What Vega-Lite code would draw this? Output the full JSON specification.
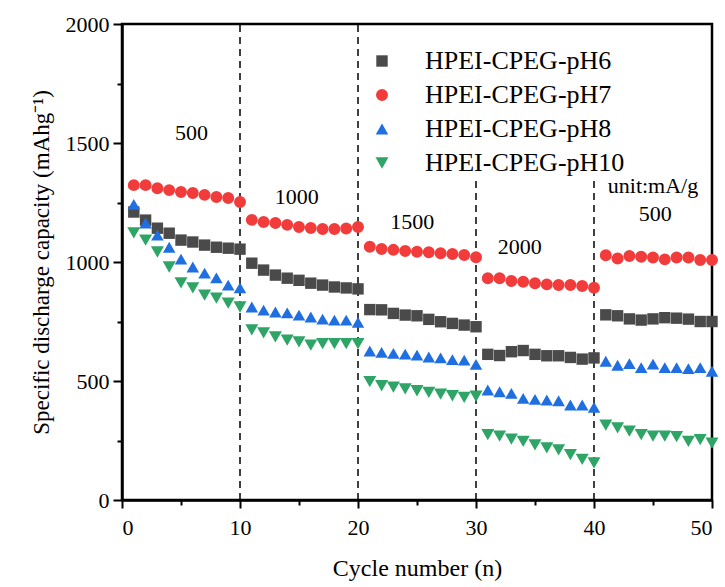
{
  "$schema": "https://vega.github.io/schema/vega-lite/v6.json",
  "width": 590,
  "height": 476,
  "autosize": {"type": "none"},
  "padding": {"left": 122, "top": 24, "right": 13, "bottom": 87},
  "background": "white",
  "config": {
    "view": {"stroke": "black", "strokeWidth": 2.5},
    "font": "Liberation Serif",
    "axis": {"labelFont": "Liberation Serif", "titleFont": "Liberation Serif", "labelColor": "black", "titleColor": "black", "titleFontWeight": "normal", "labelFontSize": 22, "titleFontSize": 23, "domainColor": "black", "domainWidth": 2.5, "tickColor": "black", "tickWidth": 2, "grid": false}
  },
  "datasets": {
    "pts": [
      {"c":1,"s":"HPEI-CPEG-pH6","v":1210},{"c":2,"s":"HPEI-CPEG-pH6","v":1176},{"c":3,"s":"HPEI-CPEG-pH6","v":1142},{"c":4,"s":"HPEI-CPEG-pH6","v":1121},{"c":5,"s":"HPEI-CPEG-pH6","v":1092},{"c":6,"s":"HPEI-CPEG-pH6","v":1084},{"c":7,"s":"HPEI-CPEG-pH6","v":1071},{"c":8,"s":"HPEI-CPEG-pH6","v":1062},{"c":9,"s":"HPEI-CPEG-pH6","v":1058},{"c":10,"s":"HPEI-CPEG-pH6","v":1054},
      {"c":11,"s":"HPEI-CPEG-pH6","v":995},{"c":12,"s":"HPEI-CPEG-pH6","v":966},{"c":13,"s":"HPEI-CPEG-pH6","v":945},{"c":14,"s":"HPEI-CPEG-pH6","v":932},{"c":15,"s":"HPEI-CPEG-pH6","v":923},{"c":16,"s":"HPEI-CPEG-pH6","v":911},{"c":17,"s":"HPEI-CPEG-pH6","v":903},{"c":18,"s":"HPEI-CPEG-pH6","v":895},{"c":19,"s":"HPEI-CPEG-pH6","v":891},{"c":20,"s":"HPEI-CPEG-pH6","v":887},
      {"c":21,"s":"HPEI-CPEG-pH6","v":800},{"c":22,"s":"HPEI-CPEG-pH6","v":799},{"c":23,"s":"HPEI-CPEG-pH6","v":784},{"c":24,"s":"HPEI-CPEG-pH6","v":777},{"c":25,"s":"HPEI-CPEG-pH6","v":774},{"c":26,"s":"HPEI-CPEG-pH6","v":759},{"c":27,"s":"HPEI-CPEG-pH6","v":749},{"c":28,"s":"HPEI-CPEG-pH6","v":742},{"c":29,"s":"HPEI-CPEG-pH6","v":735},{"c":30,"s":"HPEI-CPEG-pH6","v":728},
      {"c":31,"s":"HPEI-CPEG-pH6","v":612},{"c":32,"s":"HPEI-CPEG-pH6","v":607},{"c":33,"s":"HPEI-CPEG-pH6","v":623},{"c":34,"s":"HPEI-CPEG-pH6","v":628},{"c":35,"s":"HPEI-CPEG-pH6","v":612},{"c":36,"s":"HPEI-CPEG-pH6","v":606},{"c":37,"s":"HPEI-CPEG-pH6","v":606},{"c":38,"s":"HPEI-CPEG-pH6","v":599},{"c":39,"s":"HPEI-CPEG-pH6","v":592},{"c":40,"s":"HPEI-CPEG-pH6","v":597},
      {"c":41,"s":"HPEI-CPEG-pH6","v":778},{"c":42,"s":"HPEI-CPEG-pH6","v":774},{"c":43,"s":"HPEI-CPEG-pH6","v":761},{"c":44,"s":"HPEI-CPEG-pH6","v":756},{"c":45,"s":"HPEI-CPEG-pH6","v":761},{"c":46,"s":"HPEI-CPEG-pH6","v":766},{"c":47,"s":"HPEI-CPEG-pH6","v":764},{"c":48,"s":"HPEI-CPEG-pH6","v":760},{"c":49,"s":"HPEI-CPEG-pH6","v":750},{"c":50,"s":"HPEI-CPEG-pH6","v":750},
      {"c":1,"s":"HPEI-CPEG-pH7","v":1323},{"c":2,"s":"HPEI-CPEG-pH7","v":1323},{"c":3,"s":"HPEI-CPEG-pH7","v":1310},{"c":4,"s":"HPEI-CPEG-pH7","v":1302},{"c":5,"s":"HPEI-CPEG-pH7","v":1294},{"c":6,"s":"HPEI-CPEG-pH7","v":1290},{"c":7,"s":"HPEI-CPEG-pH7","v":1282},{"c":8,"s":"HPEI-CPEG-pH7","v":1273},{"c":9,"s":"HPEI-CPEG-pH7","v":1269},{"c":10,"s":"HPEI-CPEG-pH7","v":1252},
      {"c":11,"s":"HPEI-CPEG-pH7","v":1177},{"c":12,"s":"HPEI-CPEG-pH7","v":1168},{"c":13,"s":"HPEI-CPEG-pH7","v":1164},{"c":14,"s":"HPEI-CPEG-pH7","v":1156},{"c":15,"s":"HPEI-CPEG-pH7","v":1147},{"c":16,"s":"HPEI-CPEG-pH7","v":1143},{"c":17,"s":"HPEI-CPEG-pH7","v":1139},{"c":18,"s":"HPEI-CPEG-pH7","v":1139},{"c":19,"s":"HPEI-CPEG-pH7","v":1141},{"c":20,"s":"HPEI-CPEG-pH7","v":1147},
      {"c":21,"s":"HPEI-CPEG-pH7","v":1064},{"c":22,"s":"HPEI-CPEG-pH7","v":1055},{"c":23,"s":"HPEI-CPEG-pH7","v":1051},{"c":24,"s":"HPEI-CPEG-pH7","v":1046},{"c":25,"s":"HPEI-CPEG-pH7","v":1043},{"c":26,"s":"HPEI-CPEG-pH7","v":1041},{"c":27,"s":"HPEI-CPEG-pH7","v":1037},{"c":28,"s":"HPEI-CPEG-pH7","v":1034},{"c":29,"s":"HPEI-CPEG-pH7","v":1029},{"c":30,"s":"HPEI-CPEG-pH7","v":1020},
      {"c":31,"s":"HPEI-CPEG-pH7","v":932},{"c":32,"s":"HPEI-CPEG-pH7","v":932},{"c":33,"s":"HPEI-CPEG-pH7","v":920},{"c":34,"s":"HPEI-CPEG-pH7","v":917},{"c":35,"s":"HPEI-CPEG-pH7","v":911},{"c":36,"s":"HPEI-CPEG-pH7","v":906},{"c":37,"s":"HPEI-CPEG-pH7","v":903},{"c":38,"s":"HPEI-CPEG-pH7","v":903},{"c":39,"s":"HPEI-CPEG-pH7","v":899},{"c":40,"s":"HPEI-CPEG-pH7","v":892},
      {"c":41,"s":"HPEI-CPEG-pH7","v":1028},{"c":42,"s":"HPEI-CPEG-pH7","v":1015},{"c":43,"s":"HPEI-CPEG-pH7","v":1025},{"c":44,"s":"HPEI-CPEG-pH7","v":1022},{"c":45,"s":"HPEI-CPEG-pH7","v":1019},{"c":46,"s":"HPEI-CPEG-pH7","v":1011},{"c":47,"s":"HPEI-CPEG-pH7","v":1019},{"c":48,"s":"HPEI-CPEG-pH7","v":1019},{"c":49,"s":"HPEI-CPEG-pH7","v":1008},{"c":50,"s":"HPEI-CPEG-pH7","v":1008},
      {"c":1,"s":"HPEI-CPEG-pH8","v":1242},{"c":2,"s":"HPEI-CPEG-pH8","v":1164},{"c":3,"s":"HPEI-CPEG-pH8","v":1113},{"c":4,"s":"HPEI-CPEG-pH8","v":1062},{"c":5,"s":"HPEI-CPEG-pH8","v":1012},{"c":6,"s":"HPEI-CPEG-pH8","v":979},{"c":7,"s":"HPEI-CPEG-pH8","v":953},{"c":8,"s":"HPEI-CPEG-pH8","v":933},{"c":9,"s":"HPEI-CPEG-pH8","v":903},{"c":10,"s":"HPEI-CPEG-pH8","v":891},
      {"c":11,"s":"HPEI-CPEG-pH8","v":811},{"c":12,"s":"HPEI-CPEG-pH8","v":798},{"c":13,"s":"HPEI-CPEG-pH8","v":790},{"c":14,"s":"HPEI-CPEG-pH8","v":786},{"c":15,"s":"HPEI-CPEG-pH8","v":777},{"c":16,"s":"HPEI-CPEG-pH8","v":769},{"c":17,"s":"HPEI-CPEG-pH8","v":760},{"c":18,"s":"HPEI-CPEG-pH8","v":756},{"c":19,"s":"HPEI-CPEG-pH8","v":756},{"c":20,"s":"HPEI-CPEG-pH8","v":746},
      {"c":21,"s":"HPEI-CPEG-pH8","v":626},{"c":22,"s":"HPEI-CPEG-pH8","v":620},{"c":23,"s":"HPEI-CPEG-pH8","v":616},{"c":24,"s":"HPEI-CPEG-pH8","v":613},{"c":25,"s":"HPEI-CPEG-pH8","v":609},{"c":26,"s":"HPEI-CPEG-pH8","v":601},{"c":27,"s":"HPEI-CPEG-pH8","v":597},{"c":28,"s":"HPEI-CPEG-pH8","v":590},{"c":29,"s":"HPEI-CPEG-pH8","v":588},{"c":30,"s":"HPEI-CPEG-pH8","v":570},
      {"c":31,"s":"HPEI-CPEG-pH8","v":462},{"c":32,"s":"HPEI-CPEG-pH8","v":455},{"c":33,"s":"HPEI-CPEG-pH8","v":448},{"c":34,"s":"HPEI-CPEG-pH8","v":427},{"c":35,"s":"HPEI-CPEG-pH8","v":423},{"c":36,"s":"HPEI-CPEG-pH8","v":420},{"c":37,"s":"HPEI-CPEG-pH8","v":417},{"c":38,"s":"HPEI-CPEG-pH8","v":399},{"c":39,"s":"HPEI-CPEG-pH8","v":399},{"c":40,"s":"HPEI-CPEG-pH8","v":389},
      {"c":41,"s":"HPEI-CPEG-pH8","v":583},{"c":42,"s":"HPEI-CPEG-pH8","v":566},{"c":43,"s":"HPEI-CPEG-pH8","v":573},{"c":44,"s":"HPEI-CPEG-pH8","v":556},{"c":45,"s":"HPEI-CPEG-pH8","v":571},{"c":46,"s":"HPEI-CPEG-pH8","v":556},{"c":47,"s":"HPEI-CPEG-pH8","v":556},{"c":48,"s":"HPEI-CPEG-pH8","v":552},{"c":49,"s":"HPEI-CPEG-pH8","v":556},{"c":50,"s":"HPEI-CPEG-pH8","v":541},
      {"c":1,"s":"HPEI-CPEG-pH10","v":1122},{"c":2,"s":"HPEI-CPEG-pH10","v":1092},{"c":3,"s":"HPEI-CPEG-pH10","v":1042},{"c":4,"s":"HPEI-CPEG-pH10","v":979},{"c":5,"s":"HPEI-CPEG-pH10","v":912},{"c":6,"s":"HPEI-CPEG-pH10","v":891},{"c":7,"s":"HPEI-CPEG-pH10","v":861},{"c":8,"s":"HPEI-CPEG-pH10","v":848},{"c":9,"s":"HPEI-CPEG-pH10","v":827},{"c":10,"s":"HPEI-CPEG-pH10","v":811},
      {"c":11,"s":"HPEI-CPEG-pH10","v":715},{"c":12,"s":"HPEI-CPEG-pH10","v":702},{"c":13,"s":"HPEI-CPEG-pH10","v":685},{"c":14,"s":"HPEI-CPEG-pH10","v":672},{"c":15,"s":"HPEI-CPEG-pH10","v":664},{"c":16,"s":"HPEI-CPEG-pH10","v":651},{"c":17,"s":"HPEI-CPEG-pH10","v":657},{"c":18,"s":"HPEI-CPEG-pH10","v":657},{"c":19,"s":"HPEI-CPEG-pH10","v":657},{"c":20,"s":"HPEI-CPEG-pH10","v":657},
      {"c":21,"s":"HPEI-CPEG-pH10","v":497},{"c":22,"s":"HPEI-CPEG-pH10","v":480},{"c":23,"s":"HPEI-CPEG-pH10","v":474},{"c":24,"s":"HPEI-CPEG-pH10","v":467},{"c":25,"s":"HPEI-CPEG-pH10","v":459},{"c":26,"s":"HPEI-CPEG-pH10","v":452},{"c":27,"s":"HPEI-CPEG-pH10","v":445},{"c":28,"s":"HPEI-CPEG-pH10","v":438},{"c":29,"s":"HPEI-CPEG-pH10","v":431},{"c":30,"s":"HPEI-CPEG-pH10","v":436},
      {"c":31,"s":"HPEI-CPEG-pH10","v":275},{"c":32,"s":"HPEI-CPEG-pH10","v":268},{"c":33,"s":"HPEI-CPEG-pH10","v":256},{"c":34,"s":"HPEI-CPEG-pH10","v":246},{"c":35,"s":"HPEI-CPEG-pH10","v":232},{"c":36,"s":"HPEI-CPEG-pH10","v":219},{"c":37,"s":"HPEI-CPEG-pH10","v":211},{"c":38,"s":"HPEI-CPEG-pH10","v":191},{"c":39,"s":"HPEI-CPEG-pH10","v":171},{"c":40,"s":"HPEI-CPEG-pH10","v":156},
      {"c":41,"s":"HPEI-CPEG-pH10","v":315},{"c":42,"s":"HPEI-CPEG-pH10","v":303},{"c":43,"s":"HPEI-CPEG-pH10","v":289},{"c":44,"s":"HPEI-CPEG-pH10","v":275},{"c":45,"s":"HPEI-CPEG-pH10","v":268},{"c":46,"s":"HPEI-CPEG-pH10","v":268},{"c":47,"s":"HPEI-CPEG-pH10","v":266},{"c":48,"s":"HPEI-CPEG-pH10","v":246},{"c":49,"s":"HPEI-CPEG-pH10","v":254},{"c":50,"s":"HPEI-CPEG-pH10","v":239}
    ],
    "rules": [
      {"x": 10, "y": 0, "y2": 2000},
      {"x": 20, "y": 0, "y2": 2000},
      {"x": 30, "y": 0, "y2": 1355},
      {"x": 40, "y": 0, "y2": 1355}
    ],
    "labels": [
      {"x": 5.9, "y": 1542, "t": "500"},
      {"x": 14.8, "y": 1275, "t": "1000"},
      {"x": 24.6, "y": 1166, "t": "1500"},
      {"x": 33.7, "y": 1061, "t": "2000"},
      {"x": 45.0, "y": 1320, "t": "unit:mA/g"},
      {"x": 45.2, "y": 1203, "t": "500"}
    ]
  },
  "layer": [
    {
      "data": {"name": "rules"},
      "mark": {"type": "rule", "color": "black", "strokeWidth": 1.5, "strokeDash": [7, 5]},
      "encoding": {
        "x": {"field": "x", "type": "quantitative", "scale": {"domain": [0, 50], "nice": false}},
        "y": {"field": "y", "type": "quantitative", "scale": {"domain": [0, 2000], "nice": false}},
        "y2": {"field": "y2"}
      }
    },
    {
      "data": {"name": "pts"},
      "mark": {"type": "point", "filled": true, "opacity": 1, "strokeWidth": 0},
      "encoding": {
        "x": {"field": "c", "type": "quantitative", "scale": {"domain": [0, 50], "nice": false},
          "axis": {"title": "Cycle number (n)", "labelFont": "Liberation Serif", "titleFont": "Liberation Serif", "values": [0,5,10,15,20,25,30,35,40,45,50], "labelExpr": "datum.value % 10 === 0 ? datum.label : ''", "tickSize": {"condition": {"test": "datum.value % 10 === 0", "value": 8}, "value": 5}, "labelPadding": 9, "titlePadding": 18, "titleFontSize": 24}},
        "y": {"field": "v", "type": "quantitative", "scale": {"domain": [0, 2000], "nice": false},
          "axis": {"title": "Specific discharge capacity (mAhg⁻¹)", "labelFont": "Liberation Serif", "titleFont": "Liberation Serif", "values": [0,250,500,750,1000,1250,1500,1750,2000], "labelExpr": "datum.value % 500 === 0 ? datum.label : ''", "format": "d", "tickSize": {"condition": {"test": "datum.value % 500 === 0", "value": 9}, "value": 5}, "labelPadding": 4, "titlePadding": 12}},
        "color": {"field": "s", "type": "nominal", "sort": ["HPEI-CPEG-pH6","HPEI-CPEG-pH7","HPEI-CPEG-pH8","HPEI-CPEG-pH10"],
          "scale": {"domain": ["HPEI-CPEG-pH6","HPEI-CPEG-pH7","HPEI-CPEG-pH8","HPEI-CPEG-pH10"], "range": ["#4a4a4a","#f23c3c","#1f6fe0","#2ea566"]},
          "legend": {"title": null, "orient": "none", "legendX": 247, "legendY": 24, "labelFont": "Liberation Serif", "labelFontSize": 26, "labelColor": "black", "symbolSize": 130, "rowPadding": 8, "labelOffset": 30, "labelLimit": 400}},
        "shape": {"field": "s", "type": "nominal",
          "scale": {"domain": ["HPEI-CPEG-pH6","HPEI-CPEG-pH7","HPEI-CPEG-pH8","HPEI-CPEG-pH10"], "range": ["square","circle","triangle-up","triangle-down"]}},
        "size": {"field": "s", "type": "nominal", "legend": null,
          "scale": {"domain": ["HPEI-CPEG-pH6","HPEI-CPEG-pH7","HPEI-CPEG-pH8","HPEI-CPEG-pH10"], "range": [130, 170, 170, 170]}}
      }
    },
    {
      "data": {"name": "labels"},
      "mark": {"type": "text", "font": "Liberation Serif", "fontSize": 22, "color": "black"},
      "encoding": {
        "x": {"field": "x", "type": "quantitative"},
        "y": {"field": "y", "type": "quantitative"},
        "text": {"field": "t"}
      }
    }
  ]
}
